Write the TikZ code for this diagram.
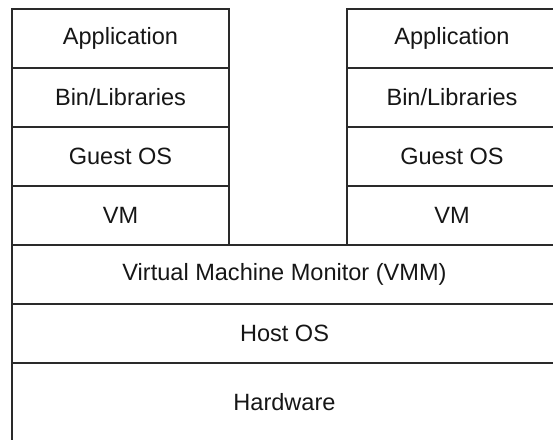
\documentclass[tikz,border=0pt]{standalone}
\usepackage{fontspec}
\setmainfont{Liberation Sans}
\usetikzlibrary{positioning}

\definecolor{edge}{HTML}{2A2A2A}
\definecolor{ink}{HTML}{161616}

\tikzset{
  layer/.style={draw=edge, line width=1.6pt, rectangle, inner sep=0pt,
    text=ink, font=\fontsize{20.1}{24}\selectfont},
  guest/.style={layer, minimum width=6.51cm, minimum height=1.77cm},
  guestr/.style={layer, minimum width=6.3cm, minimum height=1.77cm},
  host/.style={layer, minimum width=16.35cm, minimum height=1.77cm}
}

\begin{document}
\begin{tikzpicture}[x=0.03cm, y=-0.03cm]  % one unit per pixel, y grows downwards
    \useasboundingbox (0,0) rectangle (553,439);
    \clip (0,0) rectangle (553,439);

    % Left guest stack
    \node[guest] (appA) at (120.5,38.5) {Application};
    \node[guest] (binA) at (120.5,97.5) {Bin/Libraries};
    \node[guest] (osA) at (120.5,156.5) {Guest OS};
    \node[guest] (vmA) at (120.5,215.5) {VM};

    % Right guest stack
    \node[guestr] (appB) at (452,38.5) {Application};
    \node[guestr] (binB) at (452,97.5) {Bin/Libraries};
    \node[guestr] (osB) at (452,156.5) {Guest OS};
    \node[guestr] (vmB) at (452,215.5) {VM};

    % Shared layers underneath
    \node[host] (vmm) at (284.5,274.5) {Virtual Machine Monitor (VMM)};
    \node[host] (hostos) at (284.5,333.5) {Host OS};
    \node[host, minimum height=2.34cm] (hw) at (284.5,402) {Hardware};
\end{tikzpicture}
\end{document}
